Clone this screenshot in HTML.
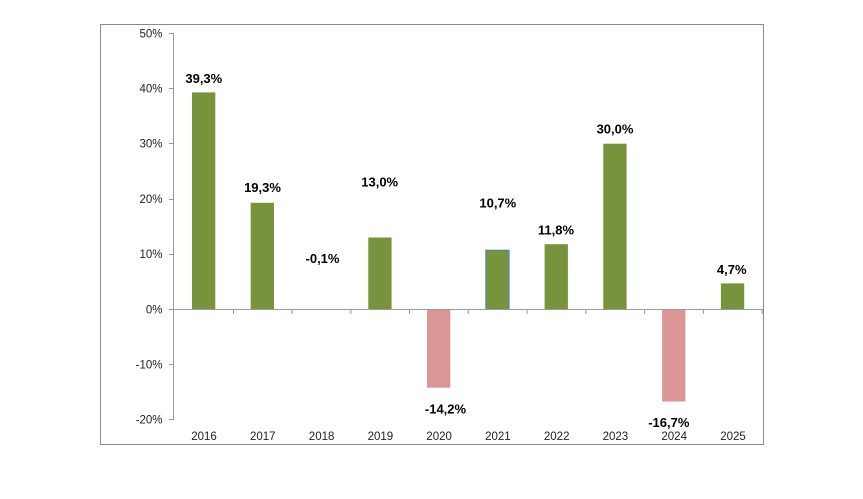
<!DOCTYPE html>
<html><head><meta charset="utf-8"><style>
html,body{margin:0;padding:0;background:#fff;}
svg{display:block;}
text{font-family:"Liberation Sans",Arial,sans-serif;}
.t{font-size:11.5px;fill:#222;}
.d{font-size:13px;font-weight:bold;fill:#000;text-anchor:middle;}
</style></head><body>
<svg width="863" height="499" viewBox="0 0 863 499" xmlns="http://www.w3.org/2000/svg">
<rect x="0" y="0" width="863" height="499" fill="#fff"/>
<rect x="100.5" y="24.5" width="663" height="420" fill="none" stroke="#8a8a8a" stroke-width="1"/>
<!-- y axis -->
<line x1="173.5" y1="33" x2="173.5" y2="420" stroke="#9a9a9a" stroke-width="1"/>
<g stroke="#9a9a9a" stroke-width="1">
<line x1="169" y1="33.5" x2="173.5" y2="33.5"/>
<line x1="169" y1="88.5" x2="173.5" y2="88.5"/>
<line x1="169" y1="143.5" x2="173.5" y2="143.5"/>
<line x1="169" y1="199.5" x2="173.5" y2="199.5"/>
<line x1="169" y1="254.5" x2="173.5" y2="254.5"/>
<line x1="169" y1="309.5" x2="173.5" y2="309.5"/>
<line x1="169" y1="364.5" x2="173.5" y2="364.5"/>
<line x1="169" y1="419.5" x2="173.5" y2="419.5"/>
</g>
<g class="t" text-anchor="end">
<text x="162.5" y="37.5">50%</text>
<text x="162.5" y="92.5">40%</text>
<text x="162.5" y="147.5">30%</text>
<text x="162.5" y="203">20%</text>
<text x="162.5" y="258">10%</text>
<text x="162.5" y="313.5">0%</text>
<text x="162.5" y="368.5">-10%</text>
<text x="162.5" y="423.5">-20%</text>
</g>
<!-- bars -->
<g fill="#77933C">
<rect x="192" y="92.4" width="23.3" height="216.9"/>
<rect x="250.7" y="202.8" width="23.3" height="106.5"/>
<rect x="309.5" y="309.3" width="23.3" height="0.6"/>
<rect x="368.3" y="237.5" width="23.3" height="71.8"/>
<rect x="485.8" y="250.2" width="23.3" height="59.1" stroke="#4F81BD" stroke-width="1"/>
<rect x="544.6" y="244.2" width="23.3" height="65.1"/>
<rect x="603.3" y="143.7" width="23.3" height="165.6"/>
<rect x="720.9" y="283.4" width="23.3" height="25.9"/>
</g>
<g fill="#D99694">
<rect x="427" y="309.3" width="23.3" height="78.4"/>
<rect x="662.1" y="309.3" width="23.3" height="92.2"/>
</g>
<!-- x axis -->
<line x1="173.5" y1="309.5" x2="762.5" y2="309.5" stroke="#9a9a9a" stroke-width="1"/>
<g stroke="#9a9a9a" stroke-width="1">
<line x1="233.5" y1="309.5" x2="233.5" y2="314"/>
<line x1="292" y1="309.5" x2="292" y2="314"/>
<line x1="350.8" y1="309.5" x2="350.8" y2="314"/>
<line x1="409.5" y1="309.5" x2="409.5" y2="314"/>
<line x1="468.3" y1="309.5" x2="468.3" y2="314"/>
<line x1="527.1" y1="309.5" x2="527.1" y2="314"/>
<line x1="585.8" y1="309.5" x2="585.8" y2="314"/>
<line x1="644.6" y1="309.5" x2="644.6" y2="314"/>
<line x1="703.4" y1="309.5" x2="703.4" y2="314"/>
<line x1="762.2" y1="309.5" x2="762.2" y2="314"/>
</g>
<g class="t" text-anchor="middle">
<text x="204" y="440">2016</text>
<text x="262.8" y="440">2017</text>
<text x="321.6" y="440">2018</text>
<text x="380.4" y="440">2019</text>
<text x="439.1" y="440">2020</text>
<text x="497.9" y="440">2021</text>
<text x="556.7" y="440">2022</text>
<text x="615.4" y="440">2023</text>
<text x="674.2" y="440">2024</text>
<text x="733" y="440">2025</text>
</g>
<!-- data labels -->
<text class="d" x="203.8" y="83">39,3%</text>
<text class="d" x="262.5" y="192">19,3%</text>
<text class="d" x="322.5" y="263">-0,1%</text>
<text class="d" x="379.7" y="186.4">13,0%</text>
<text class="d" x="445.5" y="413.7">-14,2%</text>
<text class="d" x="497.8" y="207.4">10,7%</text>
<text class="d" x="556" y="234.7">11,8%</text>
<text class="d" x="615" y="133.7">30,0%</text>
<text class="d" x="668.8" y="427">-16,7%</text>
<text class="d" x="731.7" y="274">4,7%</text>
</svg>
</body></html>
